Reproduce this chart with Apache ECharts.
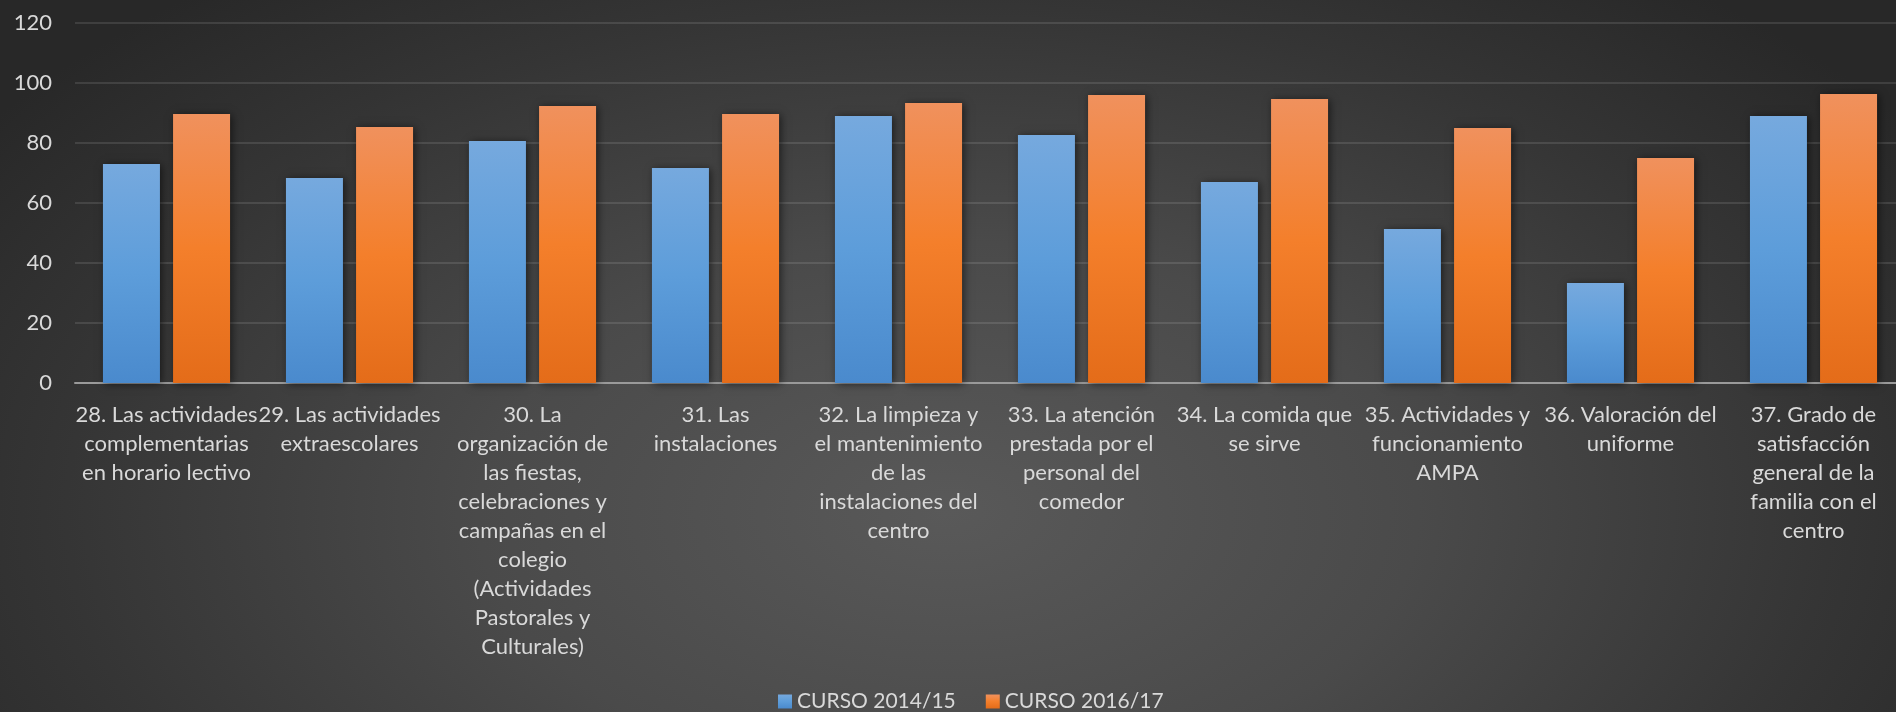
<!DOCTYPE html>
<html>
<head>
<meta charset="utf-8">
<script src="https://cdn.jsdelivr.net/npm/echarts@6/dist/echarts.min.js"></script>
<style>
html,body{margin:0;padding:0;width:1896px;height:712px;overflow:hidden;
background:radial-gradient(ellipse 62% 95% at 50% 72%, #595959 0%, #4a4a4a 40%, #353535 75%, #282828 100%);}
#chart{width:1896px;height:712px;}
</style>
</head>
<body>
<div id="chart"></div>
<script>
const categories = [
  "28. Las actividades\ncomplementarias\nen horario lectivo",
  "29. Las actividades\nextraescolares",
  "30. La\norganización de\nlas fiestas,\ncelebraciones y\ncampañas en el\ncolegio\n(Actividades\nPastorales y\nCulturales)",
  "31. Las\ninstalaciones",
  "32. La limpieza y\nel mantenimiento\nde las\ninstalaciones del\ncentro",
  "33. La atención\nprestada por el\npersonal del\ncomedor",
  "34. La comida que\nse sirve",
  "35. Actividades y\nfuncionamiento\nAMPA",
  "36. Valoración del\nuniforme",
  "37. Grado de\nsatisfacción\ngeneral de la\nfamilia con el\ncentro"
];
const seriesNames = ["CURSO 2014/15", "CURSO 2016/17"];
const curso1415 = [73, 68.3, 80.7, 71.7, 89, 82.7, 67, 51.3, 33.3, 89];
const curso1617 = [89.7, 85.3, 92.3, 89.7, 93.3, 96, 94.7, 85, 75, 96.3];

const FONT = 'Lato';
const TXT = '#d9d9d9';

function grad(top, mid, bottom) {
  return new echarts.graphic.LinearGradient(0, 0, 0, 1, [
    {offset: 0, color: top}, {offset: 0.5, color: mid}, {offset: 1, color: bottom}
  ]);
}
const barShadow = {shadowBlur: 8, shadowColor: 'rgba(0,0,0,0.55)', shadowOffsetX: 2, shadowOffsetY: 1};

const chart = echarts.init(document.getElementById('chart'), null, {renderer: 'canvas'});
chart.setOption({
  backgroundColor: 'transparent',
  animation: false,
  textStyle: {fontFamily: FONT},
  grid: {left: 75, width: 1830, top: 23, bottom: 329, containLabel: false, outerBoundsMode: 'none'},
  legend: {
    data: seriesNames,
    left: 773, top: 686,
    itemWidth: 14, itemHeight: 14, itemGap: 30,
    icon: 'rect',
    textStyle: {color: TXT, fontSize: 21, fontFamily: FONT}
  },
  xAxis: {
    type: 'category',
    data: categories,
    axisTick: {show: false},
    axisLine: {show: true, lineStyle: {color: '#9a9a9a', width: 2}},
    axisLabel: {color: TXT, fontSize: 22, fontFamily: FONT, lineHeight: 29, interval: 0, margin: 17, align: 'center'}
  },
  yAxis: {
    type: 'value',
    min: 0, max: 120, interval: 20,
    axisLine: {show: false},
    axisTick: {show: false},
    axisLabel: {color: TXT, fontSize: 22, fontFamily: FONT, margin: 23},
    splitLine: {lineStyle: {color: 'rgba(255,255,255,0.11)', width: 2}}
  },
  series: [
    {
      name: seriesNames[0], type: 'bar', data: curso1415,
      barWidth: 57, barGap: '23%',
      itemStyle: Object.assign({color: grad('#76a9de', '#5d9dda', '#4a8acd')}, barShadow)
    },
    {
      name: seriesNames[1], type: 'bar', data: curso1617,
      barWidth: 57, barGap: '23%',
      itemStyle: Object.assign({color: grad('#f0915d', '#f47f2b', '#e46c19')}, barShadow)
    }
  ]
});
</script>
</body>
</html>
